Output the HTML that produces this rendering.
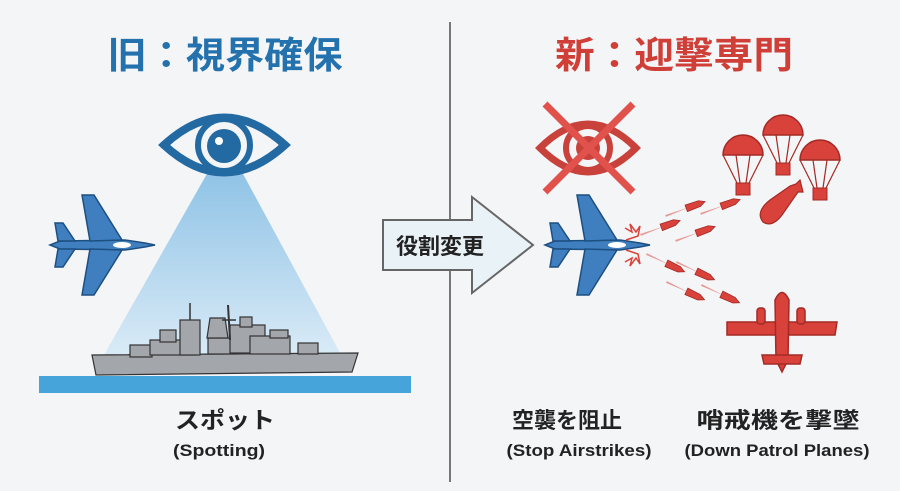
<!DOCTYPE html>
<html><head><meta charset="utf-8"><style>
body{margin:0;background:#f4f5f7;}
svg{display:block;font-family:"Liberation Sans","Noto Sans CJK JP",sans-serif;}
</style></head><body>
<svg width="900" height="491" viewBox="0 0 900 491" xmlns="http://www.w3.org/2000/svg">
<defs>
<linearGradient id="beam" x1="0" y1="0" x2="0" y2="1">
<stop offset="0" stop-color="#8fc3e6"/><stop offset="1" stop-color="#dcecf7"/></linearGradient>
<g id="jet">
<path d="M-50,0 L-40,-4 L25,-5 L45,-2 L55,0 L45,2 L25,5 L-40,4 Z" fill="#3f7fc0" stroke="#1d4f80" stroke-width="1.5"/>
<path d="M-10,-4 L-18,-50 L-6,-50 L22,-5 Z" fill="#3f7fc0" stroke="#1d4f80" stroke-width="1.5"/>
<path d="M-10,4 L-18,50 L-6,50 L22,5 Z" fill="#3f7fc0" stroke="#1d4f80" stroke-width="1.5"/>
<path d="M-42,-4 L-45,-22 L-37,-22 L-25,-4 Z" fill="#3f7fc0" stroke="#1d4f80" stroke-width="1.5"/>
<path d="M-42,4 L-45,22 L-37,22 L-25,4 Z" fill="#3f7fc0" stroke="#1d4f80" stroke-width="1.5"/>
<ellipse cx="22" cy="0" rx="9" ry="3" fill="#fff"/>
</g>
<g id="chute">
<path d="M-20,0 A20,20 0 0 1 20,0 Z" fill="#d9413b" stroke="#a32a25" stroke-width="1.5"/>
<path d="M-20,0 L-6,28 M-7,0 L-3,28 M7,0 L3,28 M20,0 L6,28" stroke="#a32a25" stroke-width="1.2" fill="none"/>
<rect x="-7" y="28" width="14" height="12" fill="#d9413b" stroke="#a32a25"/>
</g>
<g id="mis"><path d="M0,0 L-26,-1 L-26,1 Z" fill="#e89a96"/><path d="M-4,-3.5 L10,-3 L16,0 L10,3 L-4,3.5 Z" fill="#d9413b" stroke="#a32a25" stroke-width="0.8"/></g>
</defs>
<rect width="900" height="491" fill="#f4f5f7"/>
<line x1="450" y1="22" x2="450" y2="482" stroke="#777" stroke-width="2"/>
<text x="225" y="68" text-anchor="middle" font-size="37" font-weight="bold" fill="#2371ad" textLength="235" lengthAdjust="spacingAndGlyphs">旧：視界確保</text>
<text x="674" y="68" text-anchor="middle" font-size="37" font-weight="bold" fill="#cf3f38" textLength="238" lengthAdjust="spacingAndGlyphs">新：迎撃専門</text>
<polygon points="208,172 242,172 345,362 100,362" fill="url(#beam)"/>
<path d="M164,145 Q224,90 285,145 Q224,200 164,145 Z" fill="#f4f5f7" stroke="#236aa3" stroke-width="8"/>
<circle cx="224" cy="145" r="26" fill="#f4f5f7" stroke="#236aa3" stroke-width="6"/>
<circle cx="224" cy="146" r="17" fill="#236aa3"/>
<circle cx="219" cy="141" r="4" fill="#fff"/>
<rect x="39" y="376" width="372" height="17" fill="#47a4da"/>
<g fill="#a3a6ab" stroke="#333" stroke-width="1.2">
<path d="M92,355 L358,353 L352,372 L96,375 Z"/>
<rect x="130" y="345" width="22" height="12"/><rect x="150" y="340" width="45" height="15"/>
<rect x="160" y="330" width="16" height="12"/><rect x="180" y="320" width="20" height="35"/>
<rect x="208" y="338" width="30" height="16"/><path d="M207,338 L210,318 L225,318 L228,338 Z"/>
<rect x="230" y="325" width="35" height="28"/><rect x="240" y="317" width="12" height="10"/>
<rect x="250" y="336" width="40" height="18"/><rect x="270" y="330" width="18" height="8"/>
<rect x="298" y="343" width="20" height="11"/>
</g>
<line x1="228" y1="305" x2="230" y2="340" stroke="#333" stroke-width="2"/>
<line x1="222" y1="320" x2="236" y2="320" stroke="#333" stroke-width="1.5"/>
<line x1="190" y1="303" x2="190" y2="320" stroke="#333" stroke-width="1.5"/>
<use href="#jet" x="100" y="245"/>
<path d="M383,220 L472,220 L472,197 L533,245 L472,293 L472,270 L383,270 Z" fill="#e9f2f7" stroke="#666" stroke-width="2"/>
<text x="440" y="254" text-anchor="middle" font-size="22" font-weight="bold" fill="#222">役割変更</text>
<path d="M540,148 Q588,100 636,148 Q588,196 540,148 Z" fill="none" stroke="#c9413b" stroke-width="7"/>
<circle cx="588" cy="148" r="22" fill="none" stroke="#c9413b" stroke-width="6"/>
<circle cx="588" cy="148" r="12" fill="#c9413b"/>
<line x1="545" y1="104" x2="633" y2="192" stroke="#e0524b" stroke-width="7"/>
<line x1="633" y1="104" x2="545" y2="192" stroke="#e0524b" stroke-width="7"/>
<use href="#jet" x="595" y="245"/>
<path d="M625,228 L632,232 L630,224 L636,232 L640,226 L638,236 L626,240" fill="none" stroke="#d9413b" stroke-width="1.5"/>
<path d="M625,262 L632,258 L630,266 L636,258 L640,264 L638,254 L626,250" fill="none" stroke="#d9413b" stroke-width="1.5"/>
<use href="#mis" transform="translate(690,207) rotate(-20)"/>
<use href="#mis" transform="translate(725,205) rotate(-20)"/>
<use href="#mis" transform="translate(665,226) rotate(-20)"/>
<use href="#mis" transform="translate(700,232) rotate(-20)"/>
<use href="#mis" transform="translate(670,265) rotate(25)"/>
<use href="#mis" transform="translate(700,273) rotate(25)"/>
<use href="#mis" transform="translate(690,293) rotate(25)"/>
<use href="#mis" transform="translate(725,296) rotate(25)"/>
<use href="#chute" x="743" y="155"/>
<use href="#chute" x="783" y="135"/>
<use href="#chute" x="820" y="160"/>
<path d="M763,222 Q755,212 770,200 L790,186 L796,184 L800,180 L803,192 L798,192 L782,215 Q772,228 763,222 Z" fill="#d9413b" stroke="#a32a25" stroke-width="1.2"/>
<g fill="#d9413b" stroke="#a32a25" stroke-width="1.5">
<path d="M727,322 L837,322 L835,335 L727,335 Z"/>
<rect x="757" y="308" width="8" height="16" rx="3"/><rect x="797" y="308" width="8" height="16" rx="3"/>
<path d="M775,300 Q782,285 789,300 L788,360 L782,372 L776,360 Z"/>
<path d="M762,355 L802,355 L800,364 L764,364 Z"/>
</g>
<text x="225" y="428" text-anchor="middle" font-size="23" font-weight="bold" fill="#222" textLength="100" lengthAdjust="spacingAndGlyphs">スポット</text>
<text x="219" y="456" text-anchor="middle" font-size="17" font-weight="bold" fill="#222" textLength="92" lengthAdjust="spacingAndGlyphs">(Spotting)</text>
<text x="567" y="428" text-anchor="middle" font-size="22" font-weight="bold" fill="#222" textLength="110" lengthAdjust="spacingAndGlyphs">空襲を阻止</text>
<text x="579" y="456" text-anchor="middle" font-size="17" font-weight="bold" fill="#222" textLength="145" lengthAdjust="spacingAndGlyphs">(Stop Airstrikes)</text>
<text x="778" y="428" text-anchor="middle" font-size="22" font-weight="bold" fill="#222" textLength="163" lengthAdjust="spacingAndGlyphs">哨戒機を撃墜</text>
<text x="777" y="456" text-anchor="middle" font-size="17" font-weight="bold" fill="#222" textLength="185" lengthAdjust="spacingAndGlyphs">(Down Patrol Planes)</text>
</svg>
</body></html>
